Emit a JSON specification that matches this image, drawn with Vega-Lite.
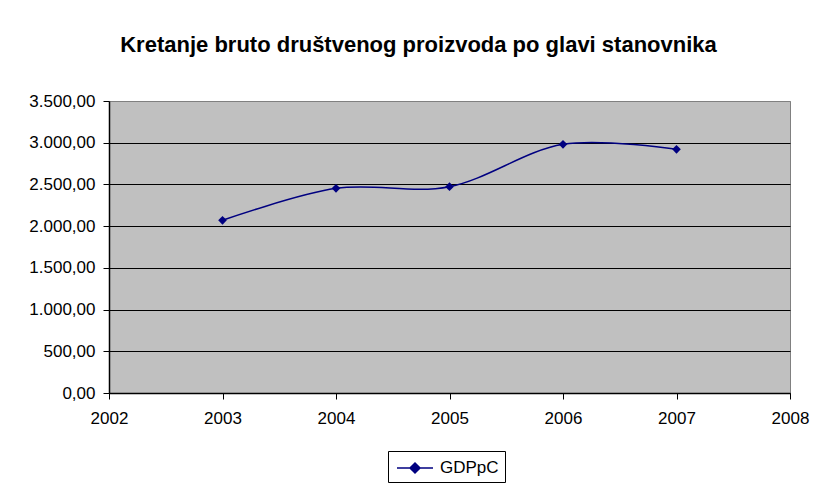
{
  "$schema": "https://vega.github.io/schema/vega-lite/v6.json",
  "width": 681,
  "height": 292,
  "autosize": {"type": "none"},
  "padding": {"left": 109, "top": 101, "right": 24, "bottom": 92},
  "background": "white",
  "config": {
    "locale": {"number": {"decimal": ",", "thousands": ".", "grouping": [3], "currency": ["", ""]}},
    "font": "Liberation Sans",
    "view": {"fill": "#C0C0C0", "stroke": "#808080", "strokeWidth": 1}
  },
  "title": {
    "text": "Kretanje bruto društvenog proizvoda po glavi stanovnika",
    "font": "Liberation Sans",
    "fontSize": 22,
    "fontWeight": "bold",
    "color": "black",
    "anchor": "middle",
    "frame": "group",
    "dx": -31,
    "offset": 35
  },
  "data": {
    "values": [
      {"year": 2003, "value": 2070, "series": "GDPpC"},
      {"year": 2004, "value": 2453, "series": "GDPpC"},
      {"year": 2005, "value": 2473, "series": "GDPpC"},
      {"year": 2006, "value": 2981, "series": "GDPpC"},
      {"year": 2007, "value": 2921, "series": "GDPpC"}
    ]
  },
  "encoding": {
    "x": {
      "field": "year",
      "type": "quantitative",
      "scale": {"domain": [2002, 2008], "nice": false, "zero": false},
      "axis": {
        "title": null,
        "values": [2002, 2003, 2004, 2005, 2006, 2007, 2008],
        "format": "d",
        "grid": false,
        "domainColor": "black",
        "domainWidth": 1.5,
        "tickColor": "black",
        "tickSize": 6,
        "labelFontSize": 17,
        "labelColor": "black",
        "labelPadding": 11,
        "labelFlush": false
      }
    },
    "y": {
      "field": "value",
      "type": "quantitative",
      "scale": {"domain": [0, 3500], "nice": false},
      "axis": {
        "title": null,
        "values": [0, 500, 1000, 1500, 2000, 2500, 3000, 3500],
        "format": ",.2f",
        "grid": true,
        "gridColor": {"condition": {"test": "datum.value >= 3500", "value": "#808080"}, "value": "black"},
        "gridWidth": 1.2,
        "gridOpacity": 1,
        "domainColor": "black",
        "domainWidth": 1.5,
        "tickColor": "black",
        "tickSize": 6,
        "labelFontSize": 17,
        "labelColor": "black",
        "labelPadding": 8
      }
    }
  },
  "layer": [
    {
      "mark": {"type": "line", "interpolate": "cardinal", "tension": 0, "strokeWidth": 1.5},
      "encoding": {
        "color": {
          "field": "series",
          "type": "nominal",
          "scale": {"range": ["#000080"]},
          "legend": {
            "title": null,
            "orient": "none",
            "legendX": 279,
            "legendY": 350,
            "direction": "vertical",
            "strokeColor": "black",
            "fillColor": "white",
            "padding": 6,
            "labelFontSize": 17,
            "labelColor": "black",
            "labelFont": "Liberation Sans",
            "symbolType": "M-1.8,0H1.8M0,-0.5L0.5,0L0,0.5L-0.5,0Z",
            "symbolSize": 400,
            "symbolOffset": 10,
            "symbolStrokeWidth": 1.5,
            "labelOffset": 14,
            "encode": {"symbols": {"update": {"fill": {"value": "#000080"}, "stroke": {"value": "#000080"}}}}
          }
        }
      }
    },
    {
      "mark": {"type": "point", "shape": "diamond", "filled": true, "size": 75, "color": "#000080", "opacity": 1}
    }
  ]
}
